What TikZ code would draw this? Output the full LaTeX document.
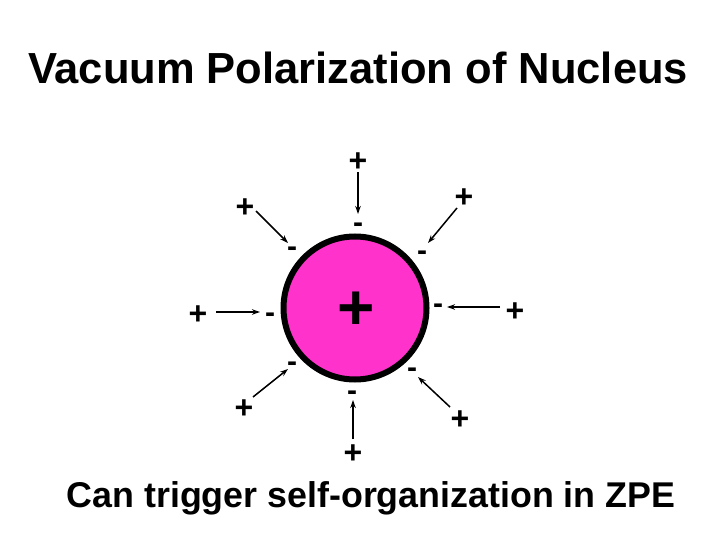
\documentclass[tikz,border=0pt]{standalone}
\usepackage{fontspec}
\setmainfont{Liberation Sans}
\usetikzlibrary{arrows.meta}
\definecolor{nucleus}{HTML}{FF33CC}
\begin{document}
\begin{tikzpicture}[x=1bp,y=-1bp,
  plus/.style={inner sep=0pt,yshift=-2bp,font=\fontsize{32bp}{36bp}\selectfont\bfseries},
  minus/.style={inner sep=0pt,yshift=-4bp,font=\fontsize{30bp}{36bp}\selectfont\bfseries},
  arr/.style={-{Stealth[length=8bp,width=5.5bp]},line width=1.5bp}]
\useasboundingbox (0,0) rectangle (720,540);
\node[font=\fontsize{43.5bp}{50bp}\selectfont\bfseries] (title) at (358,68) {Vacuum Polarization of Nucleus};
\node[font=\fontsize{35.8bp}{42bp}\selectfont\bfseries] (caption) at (371,498) {Can trigger self-organization in ZPE};
\node[circle,draw=black,line width=6bp,fill=nucleus,minimum size=143bp,inner sep=0pt] (nuc) at (355,308) {};
\node[inner sep=0pt,yshift=-3bp,font=\fontsize{64bp}{70bp}\selectfont\bfseries] (core) at (356,308) {+};
% charges
\node[plus] (p1) at (358,160) {+};
\node[minus] (m1) at (358,224) {-};
\node[plus] (p2) at (464,196) {+};
\node[minus] (m2) at (422,252) {-};
\node[plus] (p3) at (515,310) {+};
\node[minus] (m3) at (438,305) {-};
\node[plus] (p4) at (460,418) {+};
\node[minus] (m4) at (412,369) {-};
\node[plus] (p5) at (353,452) {+};
\node[minus] (m5) at (352,392) {-};
\node[plus] (p6) at (244,407) {+};
\node[minus] (m6) at (292,363) {-};
\node[plus] (p7) at (198,313) {+};
\node[minus] (m7) at (270,314) {-};
\node[plus] (p8) at (245,206) {+};
\node[minus] (m8) at (292,248) {-};
% arrows
\coordinate (a1s) at (358,172); \coordinate (a1e) at (358,214);
\coordinate (a2s) at (457,208); \coordinate (a2e) at (428,243);
\coordinate (a3s) at (500,307); \coordinate (a3e) at (447,307);
\coordinate (a4s) at (450,407); \coordinate (a4e) at (418,377);
\coordinate (a5s) at (353,439); \coordinate (a5e) at (353,400);
\coordinate (a6s) at (253,397); \coordinate (a6e) at (288,369);
\coordinate (a7s) at (216,312); \coordinate (a7e) at (260,312);
\coordinate (a8s) at (256,211); \coordinate (a8e) at (288,243);
\foreach \i in {1,...,8} \draw[arr] (a\i s) -- (a\i e);
\end{tikzpicture}
\end{document}
